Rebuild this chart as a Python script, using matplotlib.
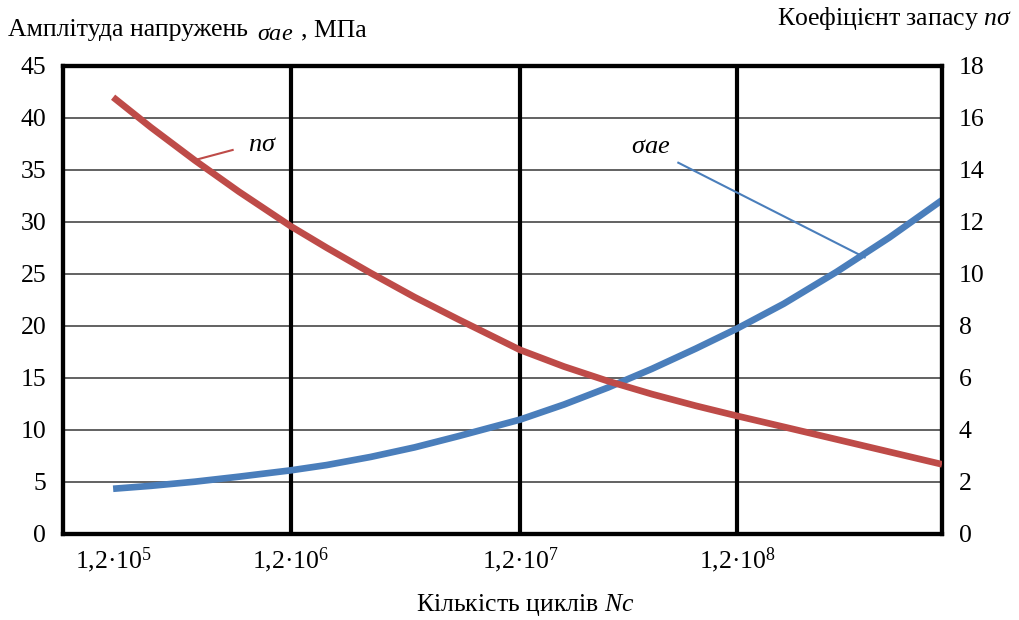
import matplotlib
matplotlib.use('Agg')
import matplotlib.pyplot as plt

plt.rcParams['font.family'] = ['Liberation Serif', 'DejaVu Serif']
plt.rcParams['mathtext.fontset'] = 'custom'
plt.rcParams['mathtext.rm'] = 'Liberation Serif'
plt.rcParams['mathtext.it'] = 'Liberation Serif:italic'

# x positions in % of plot width
tick_pos = [5.7, 25.9, 52.0, 76.7]
tick_labels = ['1,2·10$^5$', '1,2·10$^6$', '1,2·10$^7$', '1,2·10$^8$']

x_pts = [5.7, 10, 15, 20, 25.9, 30, 35, 40, 45, 52, 57, 62, 67, 72, 76.7, 82, 88, 94, 100]
# safety factor n_sigma (right axis)
n_sigma = [16.8, 15.64, 14.37, 13.17, 11.84, 11.01, 10.04, 9.11, 8.25, 7.08,
           6.44, 5.88, 5.38, 4.93, 4.54, 4.12, 3.64, 3.16, 2.68]
# stress amplitude sigma_ae, MPa (left axis)
sigma_ae = [4.35, 4.63, 5.03, 5.51, 6.12, 6.63, 7.41, 8.33, 9.41, 11.0,
            12.45, 14.08, 15.88, 17.83, 19.76, 22.14, 25.2, 28.5, 32.1]

left_ticks = list(range(0, 50, 5))
right_ticks = list(range(0, 20, 2))

fig = plt.figure(figsize=(10.19, 6.2), dpi=100)
ax = fig.add_axes([63/1019, 1-534/620, 879/1019, 468/620])
ax2 = ax.twinx()

ax.set_xlim(0, 100)
ax.set_ylim(0, 45)
ax2.set_ylim(0, 18)

for v in left_ticks[1:-1]:
    ax.axhline(v, color='#555555', lw=1.3, zorder=1)
for p in tick_pos[1:]:
    ax.axvline(p, color='black', lw=3, zorder=2)

ax.plot(x_pts, sigma_ae, color='#4a7ebb', lw=4.8, zorder=4, solid_capstyle='butt')
ax2.plot(x_pts, n_sigma, color='#be4b48', lw=4.8, zorder=4, solid_capstyle='butt')

ax.set_yticks(left_ticks)
ax.set_yticklabels([str(v) for v in left_ticks], fontsize=18.5)
ax2.set_yticks(right_ticks)
ax2.set_yticklabels([str(v) for v in right_ticks], fontsize=18.5)
ax.set_xticks(tick_pos)
ax.set_xticklabels(tick_labels, fontsize=18.5)
ax.tick_params(axis='x', length=0, pad=8)
ax.tick_params(axis='y', length=0, pad=12)
ax2.tick_params(length=0, pad=12)

for a in (ax, ax2):
    for s in a.spines.values():
        s.set_linewidth(3)
        s.set_color('black')

# curve labels with leader lines
ax2.plot([15.2, 19.3], [14.4, 14.77], color='#be4b48', lw=1.5)
ax2.text(21.0, 14.95, r'$n\sigma$', fontsize=19, va='center')
ax.plot([70.0, 91.2], [35.7, 26.6], color='#4a7ebb', lw=1.5)
ax.text(64.6, 37.2, r'$\sigma ae$', fontsize=19, va='center')

fig.text(8/1019, 1-30/620, 'Амплітуда напружень', fontsize=18.5, va='center')
fig.text(257/1019, 1-34/620, r'$\sigma ae$', fontsize=17.5, va='center')
fig.text(301/1019, 1-30/620, ', МПа', fontsize=18.5, va='center')
fig.text(1012/1019, 1-18/620, r'Коефіцієнт запасу $n\sigma$', fontsize=18.5,
         va='center', ha='right')
fig.text(525/1019, 1-605/620, r'Кількість циклів $Nc$', fontsize=18.5,
         va='center', ha='center')

fig.savefig('out.png', dpi=100)
